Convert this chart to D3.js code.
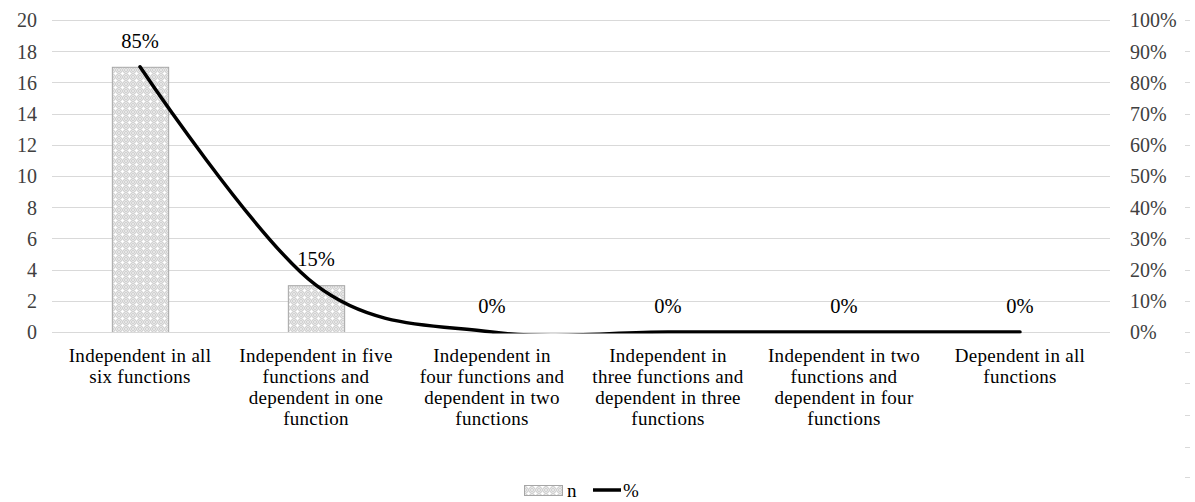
<!DOCTYPE html>
<html><head><meta charset="utf-8">
<script src="https://cdn.jsdelivr.net/npm/d3@7"></script>
<style>body{margin:0;background:#fff}svg{display:block}</style>
</head><body><svg id="c" width="1195" height="502"></svg>
<script>
const categories = [
  "Independent in all six functions",
  "Independent in five functions and dependent in one function",
  "Independent in four functions and dependent in two functions",
  "Independent in three functions and dependent in three functions",
  "Independent in two functions and dependent in four functions",
  "Dependent in all functions"
];
const nValues = [17, 3, 0, 0, 0, 0];
const pctValues = [0.85, 0.15, 0, 0, 0, 0];
const leftTicks = [0,2,4,6,8,10,12,14,16,18,20];
const rightTicks = [0,0.1,0.2,0.3,0.4,0.5,0.6,0.7,0.8,0.9,1.0];
const labelLines = [
  ["Independent in all","six functions"],
  ["Independent in five","functions and","dependent in one","function"],
  ["Independent in","four functions and","dependent in two","functions"],
  ["Independent in","three functions and","dependent in three","functions"],
  ["Independent in two","functions and","dependent in four","functions"],
  ["Dependent in all","functions"]
];

const FF = "Liberation Serif";
const svg = d3.select("#c");
const L = 52, R = 1108, T = 20, B = 332;
const x = d3.scaleBand().domain(categories).range([L, R]).paddingInner(0.68).paddingOuter(0.34);
const xc = d => x(d) + x.bandwidth()/2;
const yL = d3.scaleLinear().domain([0,20]).range([B,T]);
const yR = d3.scaleLinear().domain([0,1]).range([B,T]);

const defs = svg.append("defs");
const pat = defs.append("pattern").attr("id","dots").attr("patternUnits","userSpaceOnUse").attr("width",7).attr("height",7);
pat.append("rect").attr("width",7).attr("height",7).attr("fill","#d2d2d2");
for (let i=0;i<7;i++) for (let j=0;j<7;j++) if ((i+j)%2===0) pat.append("rect").attr("x",i).attr("y",j).attr("width",1).attr("height",1).attr("fill","#e6e6e6");
pat.append("rect").attr("x",3).attr("y",2).attr("width",1).attr("height",3).attr("fill","#fff");
pat.append("rect").attr("x",2).attr("y",3).attr("width",3).attr("height",1).attr("fill","#fff");
defs.append("clipPath").attr("id","plot").append("rect").attr("x",0).attr("y",0).attr("width",1195).attr("height",B+1.5);

svg.append("g").selectAll("line").data(leftTicks).join("line")
  .attr("x1",L).attr("x2",R+2).attr("y1",d=>Math.round(yL(d))+0.5).attr("y2",d=>Math.round(yL(d))+0.5)
  .attr("stroke","#d9d9d9").attr("stroke-width",1);

const gl = svg.append("g").attr("transform",`translate(${L},0)`)
  .call(d3.axisLeft(yL).tickValues(leftTicks).tickSize(0).tickPadding(15));
gl.select(".domain").remove();
gl.selectAll("text").style("font-family",FF).style("font-size","20px").attr("fill","#404040").attr("dy","0.34em");

const gr = svg.append("g").attr("transform",`translate(${R},0)`)
  .call(d3.axisRight(yR).tickValues(rightTicks).tickFormat(d3.format(".0%")).tickSize(0).tickPadding(22));
gr.select(".domain").remove();
gr.selectAll("text").style("font-family",FF).style("font-size","20px").attr("fill","#404040").attr("dy","0.34em");

const dashY = rightTicks.map(d=>yR(d)).concat([352,383,415,447,477]);
svg.append("g").selectAll("line").data(dashY).join("line")
  .attr("x1",1185).attr("x2",1190).attr("y1",d=>Math.round(d)+0.5).attr("y2",d=>Math.round(d)+0.5)
  .attr("stroke","#d9d9d9");

svg.append("g").selectAll("rect").data(categories.map((c,i)=>({c,v:nValues[i]})).filter(d=>d.v>0)).join("rect")
  .attr("x",d=>x(d.c)+0.5).attr("y",d=>yL(d.v)+0.5).attr("width",x.bandwidth()).attr("height",d=>yL(0)-yL(d.v))
  .attr("fill","url(#dots)").attr("stroke","#a6a6a6").attr("stroke-width",1);

svg.append("line").attr("x1",L).attr("x2",R+2).attr("y1",B+0.5).attr("y2",B+0.5).attr("stroke","#d9d9d9");

const pts = categories.map((c,i)=>[xc(c), yR(pctValues[i])]);
svg.append("path").attr("d", d3.line().curve(d3.curveCardinal.tension(0))(pts))
  .attr("clip-path","url(#plot)")
  .attr("fill","none").attr("stroke","#000").attr("stroke-width",3.5).attr("stroke-linecap","round");

svg.append("g").selectAll("text").data(pts).join("text")
  .attr("x",d=>d[0]).attr("y",d=>d[1]-19).attr("text-anchor","middle")
  .style("font-family",FF).style("font-size","20.5px").attr("fill","#000")
  .text((d,i)=>d3.format(".0%")(pctValues[i]));

const cl = svg.append("g").selectAll("text").data(categories).join("text")
  .attr("x",d=>xc(d)).attr("y",362).attr("text-anchor","middle")
  .style("font-family",FF).style("font-size","19px").style("letter-spacing","0.3px").attr("fill","#000");
cl.each(function(d,i){
  const t = d3.select(this);
  labelLines[i].forEach((ln,k)=>t.append("tspan").attr("x",xc(d)).attr("dy",k===0?0:21).text(ln));
});

const lg = svg.append("g");
lg.append("rect").attr("x",524.5).attr("y",485.5).attr("width",38).attr("height",10).attr("fill","url(#dots)").attr("stroke","#a6a6a6");
lg.append("text").attr("x",567).attr("y",497).style("font-family",FF).style("font-size","19px").text("n");
lg.append("line").attr("x1",593).attr("x2",621).attr("y1",490).attr("y2",490).attr("stroke","#000").attr("stroke-width",3.5);
lg.append("text").attr("x",623).attr("y",497).style("font-family",FF).style("font-size","19px").text("%");
</script></body></html>
